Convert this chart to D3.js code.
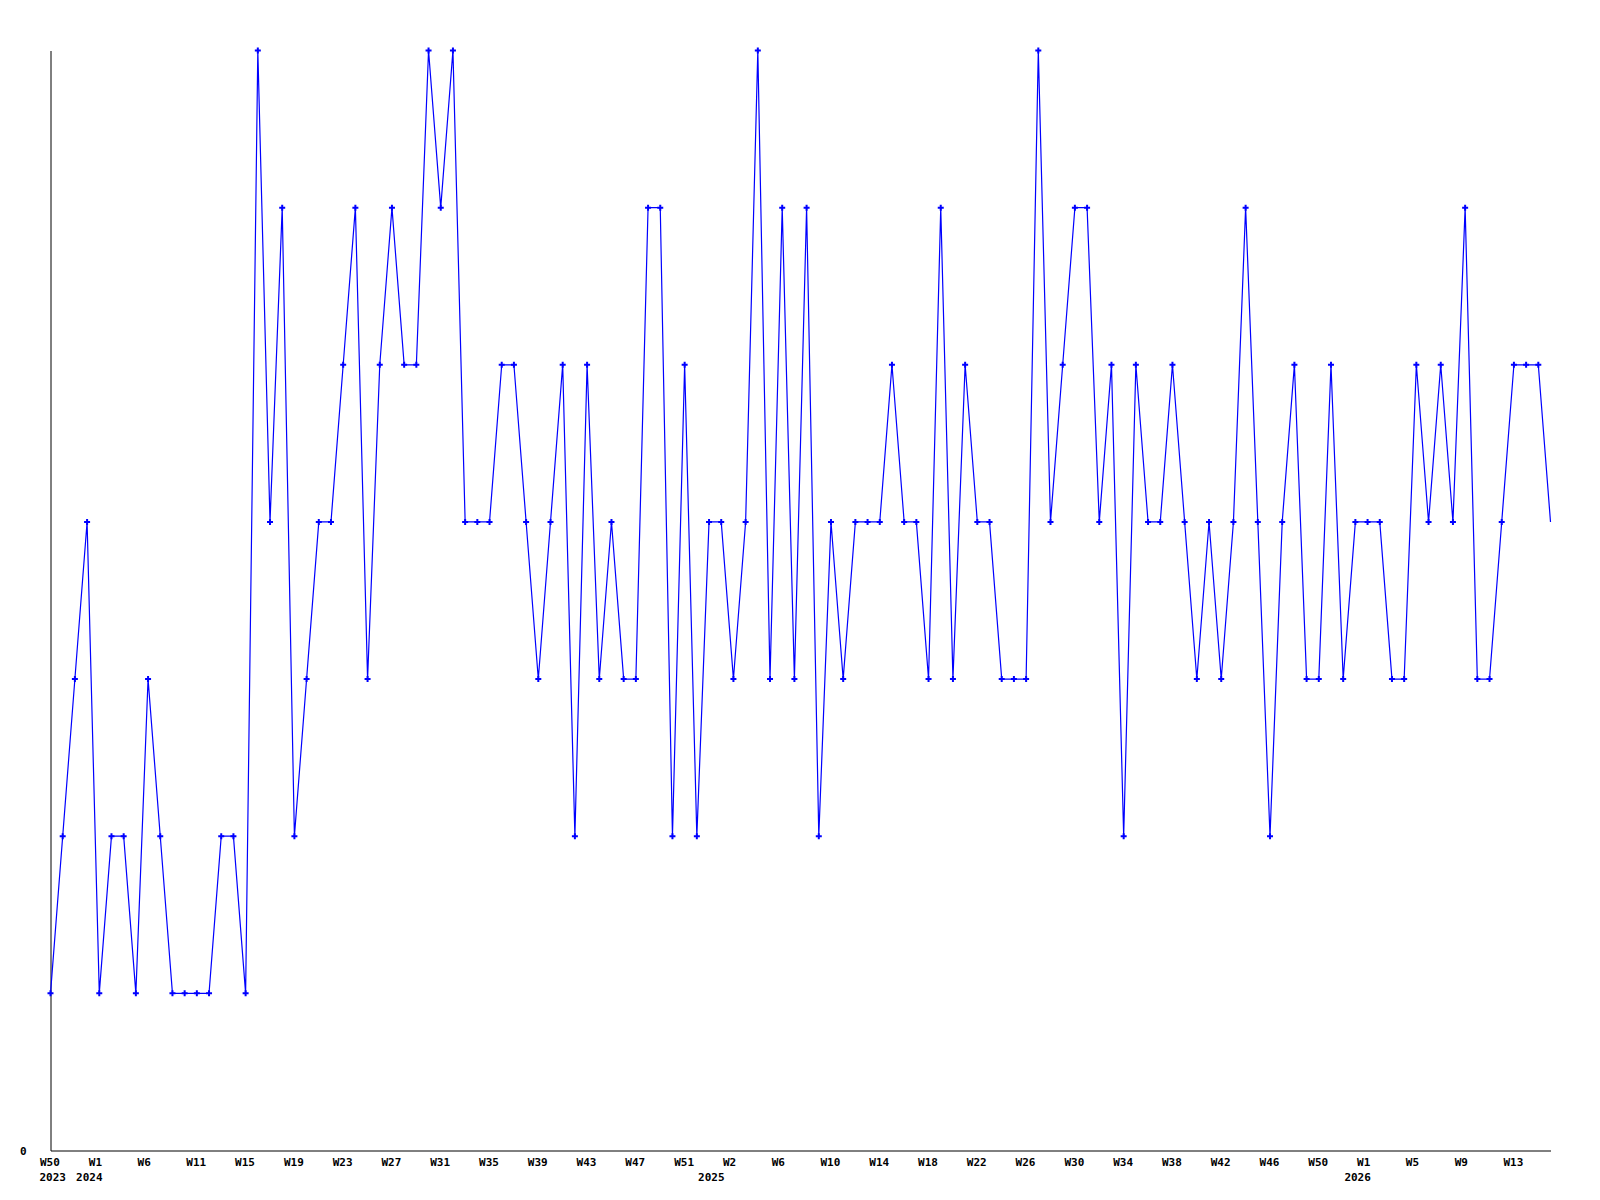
<!DOCTYPE html>
<html>
<head>
<meta charset="utf-8">
<script src="https://cdn.jsdelivr.net/npm/d3@7"></script>
<style>
  body { margin: 0; background: #fff; }
  svg text { font-family: "DejaVu Sans Mono", monospace; font-weight: bold; font-size: 11px; fill: #000; }
</style>
</head>
<body>
<div id="chart"></div>
<script>
// weekly values, first point is W50 2023
const values = [
  1,2,3,4,1,2,2,1,3,2,1,1,1,1,2,2,1,7,4,6,2,3,4,4,5,6,3,5,6,5,5,7,6,7,4,4,4,5,5,4,3,4,
  5,2,5,3,4,3,3,6,6,2,5,2,4,4,3,4,7,3,6,3,6,2,4,3,4,4,4,5,4,4,3,6,3,5,4,4,3,3,3,7,4,
  5,6,6,4,5,2,5,4,4,5,4,3,4,3,4,6,4,2,4,5,3,3,5,3,4,4,4,3,3,5,4,5,4,6,3,3,4,5,5,5,4
];
// one label every 4th point
const weekLabels = ["W50","W1","W6","W11","W15","W19","W23","W27","W31","W35","W39",
  "W43","W47","W51","W2","W6","W10","W14","W18","W22","W26","W30","W34","W38","W42",
  "W46","W50","W1","W5","W9","W13"];
const yearLabels = ["2023","2024","2025","2026"];
const yearAt = [0, 3, 54, 107];
const yMax = 7;

const width = 1600, height = 1200;
const margin = {left: 50.5, right: 49.5, top: 50.5, bottom: 49.5};

const svg = d3.select("#chart").append("svg")
    .attr("width", width)
    .attr("height", height);

const xScale = d3.scaleLinear()
    .domain([0, values.length - 1])
    .range([margin.left, width - margin.right]);
const yScale = d3.scaleLinear()
    .domain([0, yMax])
    .range([height - margin.bottom, margin.top]);

// x axis
const tickIdx = weekLabels.map((d, i) => i * 4);
const gx = svg.append("g")
    .attr("transform", "translate(0," + yScale(0) + ")")
    .call(d3.axisBottom(xScale)
        .tickValues(tickIdx)
        .tickFormat((d, i) => weekLabels[i])
        .tickSize(0).tickSizeOuter(0).tickPadding(8));
gx.select(".domain").attr("stroke", "#000");
gx.selectAll("text").attr("text-anchor", "start").attr("dx", -11);
gx.attr("font-family", null).attr("font-size", null);

// year row
svg.append("g").selectAll("text")
    .data(yearLabels)
    .join("text")
    .attr("x", (d, i) => xScale(yearAt[i]) - 11)
    .attr("y", yScale(0) + 30.5)
    .text(d => d);

// y axis, only the 0 label
const gy = svg.append("g")
    .attr("transform", "translate(" + xScale(0) + ",0)")
    .call(d3.axisLeft(yScale).tickValues([0]).tickFormat(d3.format("d"))
        .tickSize(0).tickSizeOuter(0).tickPadding(24));
gy.select(".domain").attr("stroke", "#000");
gy.attr("font-family", null).attr("font-size", null);

// line
const line = d3.line()
    .x((d, i) => xScale(i))
    .y(d => yScale(d));

svg.append("path")
    .datum(values)
    .attr("fill", "none")
    .attr("stroke", "#0000ff")
    .attr("stroke-width", 1.2)
    .attr("d", line);

// point markers (last point has none)
svg.append("g").selectAll("path")
    .data(values.slice(0, -1))
    .join("path")
    .attr("transform", (d, i) => "translate(" + xScale(i) + "," + yScale(d) + ")")
    .attr("d", d3.symbol(d3.symbolCross, 20))
    .attr("fill", "#0000ff");
</script>
</body>
</html>
